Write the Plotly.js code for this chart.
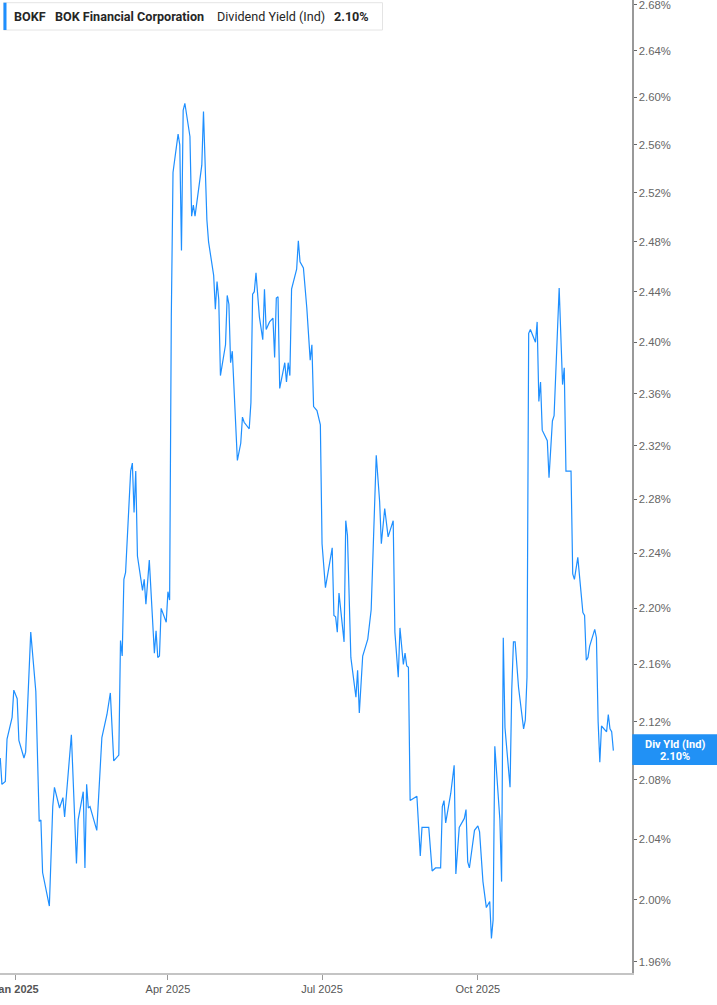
<!DOCTYPE html>
<html>
<head>
<meta charset="utf-8">
<script src="https://cdn.plot.ly/plotly-3.0.1.min.js"></script>
<style>
html,body{margin:0;padding:0;background:#fff;}
#chart{width:717px;height:1005px;}
</style>
</head>
<body>
<div id="chart"></div>
<script>
const dates = [
"2024-12-23","2024-12-24","2024-12-26","2024-12-27","2024-12-30","2024-12-31",
"2025-01-02","2025-01-03","2025-01-06","2025-01-07","2025-01-10","2025-01-13","2025-01-15","2025-01-16","2025-01-17","2025-01-21","2025-01-23","2025-01-24","2025-01-27","2025-01-29","2025-01-30",
"2025-02-03","2025-02-06","2025-02-07","2025-02-10","2025-02-11","2025-02-12","2025-02-13","2025-02-14","2025-02-18","2025-02-21","2025-02-24","2025-02-26","2025-02-28",
"2025-03-03","2025-03-04","2025-03-05","2025-03-06","2025-03-07","2025-03-10","2025-03-11","2025-03-12","2025-03-13","2025-03-14","2025-03-17","2025-03-18","2025-03-19","2025-03-20","2025-03-21","2025-03-24","2025-03-25","2025-03-26","2025-03-27","2025-03-28","2025-03-31",
"2025-04-01","2025-04-02","2025-04-03","2025-04-04","2025-04-07","2025-04-08","2025-04-09","2025-04-10","2025-04-11","2025-04-14","2025-04-15","2025-04-16","2025-04-17","2025-04-21","2025-04-22","2025-04-24","2025-04-25","2025-04-28","2025-04-29","2025-04-30",
"2025-05-01","2025-05-02","2025-05-05","2025-05-06","2025-05-07","2025-05-08","2025-05-09","2025-05-12","2025-05-14","2025-05-15","2025-05-16","2025-05-19","2025-05-20","2025-05-21","2025-05-22","2025-05-23","2025-05-25","2025-05-27","2025-05-28","2025-05-29","2025-05-31",
"2025-06-02","2025-06-03","2025-06-04","2025-06-05","2025-06-06","2025-06-09","2025-06-10","2025-06-11","2025-06-12","2025-06-13","2025-06-16","2025-06-17","2025-06-18","2025-06-20","2025-06-22","2025-06-24","2025-06-25","2025-06-26","2025-06-28","2025-06-30",
"2025-07-01","2025-07-03","2025-07-07","2025-07-08","2025-07-09","2025-07-10","2025-07-11","2025-07-14","2025-07-15","2025-07-16","2025-07-18","2025-07-21","2025-07-22","2025-07-23","2025-07-25","2025-07-28","2025-07-30",
"2025-08-02","2025-08-04","2025-08-05","2025-08-07","2025-08-09","2025-08-12","2025-08-13","2025-08-15","2025-08-16","2025-08-18","2025-08-19","2025-08-20","2025-08-21","2025-08-22","2025-08-26","2025-08-28","2025-08-29",
"2025-09-02","2025-09-04","2025-09-06","2025-09-09","2025-09-10","2025-09-11","2025-09-12","2025-09-15","2025-09-17","2025-09-18","2025-09-20","2025-09-23","2025-09-24","2025-09-25","2025-09-26","2025-09-29",
"2025-10-01","2025-10-02","2025-10-04","2025-10-06","2025-10-08","2025-10-09","2025-10-10","2025-10-11","2025-10-12","2025-10-14","2025-10-15","2025-10-16","2025-10-17","2025-10-20","2025-10-21","2025-10-22","2025-10-23","2025-10-25","2025-10-28","2025-10-29","2025-10-30","2025-10-31",
"2025-11-01","2025-11-04","2025-11-05","2025-11-06","2025-11-07","2025-11-08","2025-11-11","2025-11-12","2025-11-14","2025-11-15","2025-11-18","2025-11-20","2025-11-21","2025-11-22","2025-11-25","2025-11-26","2025-11-27","2025-11-29",
"2025-12-02","2025-12-03","2025-12-04","2025-12-05","2025-12-06","2025-12-09","2025-12-10","2025-12-11","2025-12-12","2025-12-13","2025-12-16","2025-12-17","2025-12-18","2025-12-19","2025-12-20"
];
const divYield = [
2.095,2.077,2.079,2.108,2.123,2.142,
2.136,2.107,2.095,2.099,2.183,2.141,2.052,2.053,2.018,1.996,2.062,2.075,2.061,2.068,2.055,
2.111,2.024,2.053,2.072,2.021,2.077,2.061,2.062,2.046,2.109,2.125,2.140,2.093,
2.097,2.177,2.166,2.221,2.226,2.301,2.307,2.270,2.301,2.238,2.213,2.221,2.203,2.223,2.235,2.168,2.184,2.165,2.166,2.200,2.190,
2.212,2.206,2.420,2.537,2.569,2.560,2.473,2.589,2.595,2.567,2.501,2.510,2.501,2.543,2.588,2.498,2.480,2.453,2.426,2.448,
2.434,2.374,2.398,2.437,2.430,2.384,2.393,2.309,2.322,2.342,2.338,2.333,2.353,2.438,2.440,2.455,2.420,2.402,2.442,2.410,2.416,
2.419,2.388,2.435,2.436,2.364,2.384,2.369,2.384,2.374,2.442,2.458,2.481,2.464,2.459,2.427,2.386,2.398,2.350,2.347,2.336,
2.247,2.215,2.244,2.195,2.194,2.183,2.211,2.176,2.264,2.253,2.165,2.137,2.156,2.126,2.166,2.178,2.199,
2.313,2.278,2.247,2.273,2.252,2.264,2.183,2.151,2.186,2.160,2.168,2.159,2.158,2.066,2.069,2.029,2.048,
2.048,2.019,2.021,2.021,2.062,2.066,2.051,2.071,2.090,2.017,2.048,2.054,2.060,2.025,2.021,2.046,
2.049,2.045,2.012,1.995,1.999,1.975,1.987,2.103,2.084,2.053,2.012,2.179,2.116,2.075,2.142,2.176,2.176,2.144,2.115,2.121,2.151,2.407,
2.410,2.400,2.416,2.354,2.369,2.332,2.324,2.296,2.339,2.343,2.443,2.367,2.380,2.301,2.301,2.225,2.221,2.237,
2.197,2.195,2.163,2.165,2.173,2.185,2.179,2.120,2.092,2.117,2.113,2.125,2.115,2.113,2.100
];
const yTickVals = [1.96,2.00,2.04,2.08,2.12,2.16,2.20,2.24,2.28,2.32,2.36,2.40,2.44,2.48,2.52,2.56,2.60,2.64,2.68];
const yTickText = ["1.96%","2.00%","2.04%","2.08%","2.12%","2.16%","2.20%","2.24%","2.28%","2.32%","2.36%","2.40%","2.44%","2.48%","2.52%","2.56%","2.60%","2.64%","2.68%"];
const xTickVals = ["2025-01-01","2025-04-01","2025-07-01","2025-10-01"];
const xTickText = ["<b>Jan 2025</b>","Apr 2025","Jul 2025","Oct 2025"];
const ticker = "BOKF";
const company = "BOK Financial Corporation";
const metric = "Dividend Yield (Ind)";
const lastLabel = "Div Yld (Ind)";
const lastValue = "2.10%";

const W = 717, H = 1005, ML = 0, MR = 85, MT = 0, MB = 32;
const PW = W - ML - MR, PH = H - MT - MB;
const px = v => v / PW;
const py = v => 1 - v / PH;
const BLUE = "#1e8fff";
const HFONT = {family: "Roboto, sans-serif", size: 12.6, color: "#262626"};

const trace = {
  x: dates, y: divYield, type: "scatter", mode: "lines",
  line: {color: BLUE, width: 1.2}, hoverinfo: "skip", showlegend: false
};

const layout = {
  width: W, height: H,
  margin: {l: ML, r: MR, t: MT, b: MB, pad: 0},
  paper_bgcolor: "#ffffff", plot_bgcolor: "#ffffff",
  showlegend: false,
  xaxis: {
    type: "date",
    range: ["2024-12-22 20:28", "2025-12-31 00:00"],
    tickmode: "array", tickvals: xTickVals, ticktext: xTickText,
    ticks: "outside", ticklen: 5, tickcolor: "#9a9a9a", tickwidth: 1,
    showgrid: false, zeroline: false,
    showline: true, linecolor: "#c4c4c4", linewidth: 2,
    tickfont: {family: "Liberation Sans, Arial, sans-serif", size: 11, color: "#555555"},
    ticklabeloverflow: "allow",
    fixedrange: true
  },
  yaxis: {
    type: "log", side: "right",
    range: [0.290652, 0.428802],
    tickmode: "array", tickvals: yTickVals, ticktext: yTickText,
    ticks: "outside", ticklen: 3, tickcolor: "#666666", tickwidth: 1,
    showgrid: false, zeroline: false,
    showline: true, linecolor: "#999999", linewidth: 1.5,
    tickfont: {family: "Liberation Sans, Arial, sans-serif", size: 11.3, color: "#666666"},
    ticklabeloverflow: "allow",
    fixedrange: true
  },
  shapes: [
    {type: "rect", xref: "paper", yref: "paper", x0: px(3.5), x1: px(382.5), y0: py(30), y1: py(2.7),
     fillcolor: "#ffffff", line: {color: "#e4e4e4", width: 1}, layer: "above"},
    {type: "rect", xref: "paper", yref: "paper", x0: px(3.5), x1: px(6.5), y0: py(30), y1: py(2.7),
     fillcolor: BLUE, line: {width: 0}, layer: "above"},
    {type: "rect", xref: "paper", yref: "paper", x0: px(632.3), x1: px(717), y0: py(765), y1: py(734.3),
     fillcolor: "#2191f5", line: {width: 0}, layer: "above"}
  ],
  annotations: [
    {xref: "paper", yref: "paper", x: px(11.5), y: py(16.5), xanchor: "left", yanchor: "middle", showarrow: false,
     text: "<b>" + ticker + "</b>", font: HFONT},
    {xref: "paper", yref: "paper", x: px(53), y: py(16.5), xanchor: "left", yanchor: "middle", showarrow: false,
     text: "<b>" + company + "</b>", font: HFONT},
    {xref: "paper", yref: "paper", x: px(214.5), y: py(16.5), xanchor: "left", yanchor: "middle", showarrow: false,
     text: metric, font: HFONT},
    {xref: "paper", yref: "paper", x: px(331.5), y: py(16.5), xanchor: "left", yanchor: "middle", showarrow: false,
     text: "<b>" + lastValue + "</b>", font: HFONT},
    {xref: "paper", yref: "paper", x: px(674.6), y: py(744.5), xanchor: "center", yanchor: "middle", showarrow: false,
     text: "<b>" + lastLabel + "</b>", font: {family: "Roboto, sans-serif", size: 11, color: "#ffffff"}},
    {xref: "paper", yref: "paper", x: px(674.6), y: py(756.5), xanchor: "center", yanchor: "middle", showarrow: false,
     text: "<b>" + lastValue + "</b>", font: {family: "Roboto, sans-serif", size: 11, color: "#ffffff"}}
  ]
};

Plotly.newPlot("chart", [trace], layout, {displayModeBar: false, staticPlot: true});
</script>
</body>
</html>
